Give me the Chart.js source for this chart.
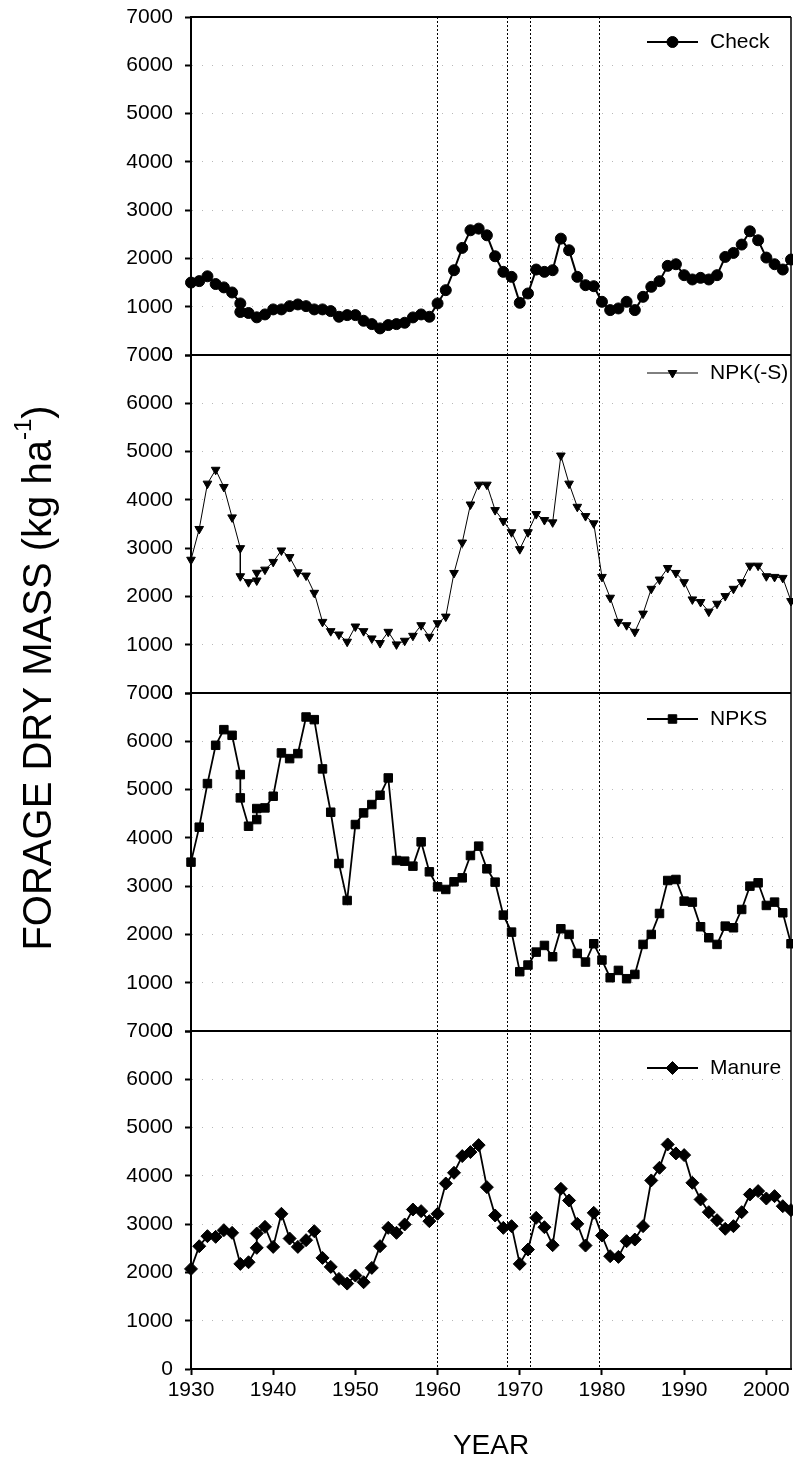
<!DOCTYPE html>
<html>
<head>
<meta charset="utf-8">
<script src="https://cdn.jsdelivr.net/npm/chart.js@4.4.0/dist/chart.umd.min.js"></script>
<style>
  html, body { margin: 0; padding: 0; background: #fff; }
  #wrap { position: relative; width: 793px; height: 1460px; }
  canvas { display: block; }
</style>
</head>
<body>
<div id="wrap"><canvas id="massChart" width="793" height="1460"></canvas></div>
<script>
// Forage dry mass (kg/ha) per treatment
const checkYears = [1930,1931,1932,1933,1934,1935,1936,1936,1937,1938,1939,1940,1941,1942,1943,1944,1945,1946,1947,1948,1949,1950,
  1951,1952,1953,1954,1955,1956,1957,1958,1959,1960,1961,1962,1963,1964,1965,1966,1967,1968,1969,1970,
  1971,1972,1973,1974,1975,1976,1977,1978,1979,1980,1981,1982,1983,1984,1985,1986,1987,1988,1989,1990,
  1991,1992,1993,1994,1995,1996,1997,1998,1999,2000,2001,2002,2003];
const checkMass = [1500,1530,1630,1470,1400,1295,1068,890,870,780,840,944,944,1012,1047,1012,944,944,909,792,826,826,
  709,640,551,620,640,668,778,840,792,1068,1343,1756,2218,2583,2617,2479,2045,1722,1618,1081,
  1274,1770,1722,1756,2410,2169,1618,1446,1425,1102,930,964,1102,930,1205,1412,1529,1846,1880,1653,
  1564,1598,1564,1653,2031,2114,2287,2562,2376,2018,1880,1770,1977];

const npkYears = [1930,1931,1932,1933,1934,1935,1936,1936,1937,1938,1938,1939,1940,1941,1942,1943,1944,1945,1946,1947,1948,1949,1950,
  1951,1952,1953,1954,1955,1956,1957,1958,1959,1960,1961,1962,1963,1964,1965,1966,1967,1968,1969,1970,
  1971,1972,1973,1974,1975,1976,1977,1978,1979,1980,1981,1982,1983,1984,1985,1986,1987,1988,1989,1990,
  1991,1992,1993,1994,1995,1996,1997,1998,1999,2000,2001,2002,2003];
const npkMass = [2760,3397,4336,4623,4267,3637,3000,2418,2295,2330,2490,2555,2715,2952,2815,2500,2432,2075,1473,1281,1212,1062,1377,
  1281,1130,1034,1267,1007,1082,1185,1404,1164,1445,1582,2486,3116,3904,4315,4315,3788,3562,3329,2979,
  3329,3705,3582,3534,4918,4336,3856,3664,3514,2404,1973,1473,1404,1267,1644,2158,2349,2589,2486,2295,
  1938,1884,1685,1849,2007,2158,2295,2637,2637,2418,2404,2384,1904];

const npksYears = [1930,1931,1932,1933,1934,1935,1936,1936,1937,1938,1938,1939,1940,1941,1942,1943,1944,1945,1946,1947,1948,1949,1950,
  1951,1952,1953,1954,1955,1956,1957,1958,1959,1960,1961,1962,1963,1964,1965,1966,1967,1968,1969,1970,
  1971,1972,1973,1974,1975,1976,1977,1978,1979,1980,1981,1982,1983,1984,1985,1986,1987,1988,1989,1990,
  1991,1992,1993,1994,1995,1996,1997,1998,1999,2000,2001,2002,2003];
const npksMass = [3497,4221,5124,5917,6241,6124,5310,4828,4241,4379,4607,4620,4862,5759,5641,5745,6503,6448,5428,4531,3469,2703,4276,
  4517,4690,4883,5241,3531,3517,3414,3917,3297,2986,2931,3090,3172,3634,3828,3359,3083,2400,2048,1228,
  1366,1634,1772,1538,2117,2000,1607,1428,1807,1469,1103,1255,1083,1172,1793,2000,2434,3117,3138,2690,
  2669,2159,1931,1793,2172,2138,2517,3000,3069,2600,2669,2448,1807];

const manureYears = [1930,1931,1932,1933,1934,1935,1936,1937,1938,1938,1939,1940,1941,1942,1943,1944,1945,1946,1947,1948,1949,1950,
  1951,1952,1953,1954,1955,1956,1957,1958,1959,1960,1961,1962,1963,1964,1965,1966,1967,1968,1969,1970,
  1971,1972,1973,1974,1975,1976,1977,1978,1979,1980,1981,1982,1983,1984,1985,1986,1987,1988,1989,1990,
  1991,1992,1993,1994,1995,1996,1997,1998,1999,2000,2001,2002,2003];
const manureMass = [2073,2543,2751,2737,2875,2820,2177,2211,2509,2806,2944,2529,3214,2702,2529,2668,2854,2301,2115,1866,1769,1935,
  1797,2094,2543,2923,2820,2993,3303,3269,3062,3214,3842,4064,4409,4492,4637,3766,3179,2923,2958,2177,
  2474,3131,2937,2564,3732,3490,3006,2557,3234,2764,2336,2322,2647,2681,2958,3905,4167,4651,4464,4430,
  3856,3511,3248,3082,2903,2958,3248,3614,3684,3531,3580,3372,3290];

// dotted reference years and axis ticks
const eventYears = [1960, 1968.5, 1971.3, 1979.7];
const yearTicks = [1930, 1940, 1950, 1960, 1970, 1980, 1990, 2000];
const massTicks = [0, 1000, 2000, 3000, 4000, 5000, 6000, 7000];

const FAMILY = '"Liberation Sans", Arial, Helvetica, sans-serif';
const tickFont = { family: FAMILY, size: 21 };

function toPoints(xs, ys) {
  return xs.map((x, i) => ({ x: x, y: ys[i] }));
}

function panelAxis(weight) {
  return {
    type: 'linear',
    position: 'left',
    stack: 'panels',
    stackWeight: 1,
    weight: weight,
    min: 0,
    max: 7000,
    afterBuildTicks: s => { s.ticks = massTicks.map(v => ({ value: v })); },
    afterFit: s => { s.width = 191; s.paddingTop = 0; s.paddingBottom = 0; },
    ticks: { color: '#000', font: tickFont, padding: 12, autoSkip: false, callback: v => String(v) },
    grid: {
      color: c => (c.tick && (c.tick.value === 0 || c.tick.value === 7000)) ? 'rgba(0,0,0,0)' : 'rgba(0,0,0,0.28)',
      lineWidth: 1,
      tickLength: 6,
      tickColor: '#000',
      tickWidth: 2
    },
    border: { display: true, color: '#000', width: 2, dash: [1, 9] }
  };
}

// frame lines between the stacked panels
const panelFrames = {
  id: 'panelFrames',
  afterDraw(chart) {
    const { ctx, chartArea: a } = chart;
    ctx.save();
    ctx.strokeStyle = '#000';
    ctx.lineWidth = 2;
    ['y0', 'y1', 'y2', 'y3'].forEach(id => {
      const s = chart.scales[id];
      ctx.beginPath();
      ctx.moveTo(a.left, s.top);
      ctx.lineTo(a.right, s.top);
      ctx.stroke();
    });
    ctx.lineWidth = 1.5;
    ctx.beginPath();
    ctx.moveTo(a.right, a.top);
    ctx.lineTo(a.right, a.bottom);
    ctx.stroke();
    ctx.restore();
  }
};

// one legend entry in the top right of each panel
const panelLegends = {
  id: 'panelLegends',
  afterDraw(chart, args, opts) {
    const ctx = chart.ctx;
    chart.data.datasets.forEach((ds, i) => {
      const s = chart.scales[ds.yAxisID];
      const y = s.top + opts.offsets[i];
      const x0 = opts.left;
      const x1 = opts.left + opts.lineLength;
      ctx.save();
      ctx.strokeStyle = '#000';
      ctx.fillStyle = '#000';
      ctx.lineWidth = ds.borderWidth;
      ctx.beginPath();
      ctx.moveTo(x0, y);
      ctx.lineTo(x1, y);
      ctx.stroke();
      if (Chart.helpers && Chart.helpers.drawPoint) {
        ctx.lineWidth = ds.pointBorderWidth;
        Chart.helpers.drawPoint(ctx, {
          pointStyle: ds.pointStyle,
          rotation: ds.pointRotation || 0,
          radius: ds.pointRadius,
          borderWidth: ds.pointBorderWidth
        }, (x0 + x1) / 2, y);
      } else {
        ctx.beginPath();
        ctx.arc((x0 + x1) / 2, y, ds.pointRadius, 0, Math.PI * 2);
        ctx.fill();
      }
      ctx.font = '21px ' + FAMILY;
      ctx.textBaseline = 'middle';
      ctx.textAlign = 'left';
      ctx.fillText(ds.label, opts.textX, y);
      ctx.restore();
    });
  }
};

// rotated y title with superscript
const yTitle = {
  id: 'yTitle',
  afterDraw(chart, args, opts) {
    const ctx = chart.ctx;
    const main = 'FORAGE DRY MASS (kg ha';
    const sup = '-1';
    const tail = ')';
    const big = opts.size + 'px ' + FAMILY;
    const small = Math.round(opts.size * 0.6) + 'px ' + FAMILY;
    ctx.save();
    ctx.font = big;
    const w1 = ctx.measureText(main).width;
    const w3 = ctx.measureText(tail).width;
    ctx.font = small;
    const w2 = ctx.measureText(sup).width;
    const total = w1 + w2 + w3;
    ctx.translate(opts.x, opts.cy);
    ctx.rotate(-Math.PI / 2);
    ctx.fillStyle = '#000';
    ctx.textAlign = 'left';
    ctx.textBaseline = 'middle';
    let x = -total / 2;
    ctx.font = big;
    ctx.fillText(main, x, 0);
    x += w1;
    ctx.font = small;
    ctx.fillText(sup, x, -opts.size * 0.4);
    x += w2;
    ctx.font = big;
    ctx.fillText(tail, x, 0);
    ctx.restore();
  }
};

new Chart(document.getElementById('massChart'), {
  type: 'line',
  data: {
    datasets: [
      {
        label: 'Check', data: toPoints(checkYears, checkMass), yAxisID: 'y0',
        borderColor: '#000', backgroundColor: '#000', borderWidth: 2,
        pointStyle: 'circle', pointRadius: 5.5, pointBorderWidth: 1,
        pointBackgroundColor: '#000', pointBorderColor: '#000'
      },
      {
        label: 'NPK(-S)', data: toPoints(npkYears, npkMass), yAxisID: 'y1',
        borderColor: '#000', backgroundColor: '#000', borderWidth: 1,
        pointStyle: 'triangle', pointRotation: 180, pointRadius: 5, pointBorderWidth: 1,
        pointBackgroundColor: '#000', pointBorderColor: '#000'
      },
      {
        label: 'NPKS', data: toPoints(npksYears, npksMass), yAxisID: 'y2',
        borderColor: '#000', backgroundColor: '#000', borderWidth: 1.8,
        pointStyle: 'rect', pointRadius: 6, pointBorderWidth: 1,
        pointBackgroundColor: '#000', pointBorderColor: '#000'
      },
      {
        label: 'Manure', data: toPoints(manureYears, manureMass), yAxisID: 'y3',
        borderColor: '#000', backgroundColor: '#000', borderWidth: 1.8,
        pointStyle: 'rectRot', pointRadius: 6.5, pointBorderWidth: 1,
        pointBackgroundColor: '#000', pointBorderColor: '#000'
      }
    ]
  },
  options: {
    responsive: false,
    animation: false,
    devicePixelRatio: 1,
    clip: false,
    layout: { autoPadding: false, padding: { left: 0, top: 17, right: 2, bottom: 0 } },
    elements: { line: { tension: 0 } },
    plugins: {
      legend: { display: false },
      tooltip: { enabled: false },
      panelLegends: { offsets: [25, 18, 26, 37], left: 647, lineLength: 51, textX: 710 },
      yTitle: { x: 40, cy: 678, size: 40 }
    },
    scales: {
      x: {
        type: 'linear',
        position: 'bottom',
        min: 1930,
        max: 2003,
        afterBuildTicks: s => { s.ticks = yearTicks.map(v => ({ value: v })); },
        afterFit: s => { s.height = 91; s.paddingLeft = 0; s.paddingRight = 0; },
        ticks: { color: '#000', font: tickFont, padding: 3, maxRotation: 0, autoSkip: false, callback: v => String(v) },
        grid: { drawOnChartArea: false, drawTicks: true, tickLength: 6, tickColor: '#000', tickWidth: 2 },
        border: { display: true, color: '#000', width: 2 },
        title: { display: true, text: 'YEAR', color: '#000', font: { family: FAMILY, size: 28, lineHeight: 1 }, padding: { top: 0, bottom: 0 } }
      },
      events: {
        type: 'linear',
        position: 'top',
        min: 1930,
        max: 2003,
        afterBuildTicks: s => { s.ticks = eventYears.map(v => ({ value: v })); },
        afterFit: s => { s.height = 0; s.paddingLeft = 0; s.paddingRight = 0; },
        ticks: { display: false },
        grid: { drawTicks: false, color: '#000', lineWidth: 1 },
        border: { display: false, dash: [2, 2] }
      },
      y0: panelAxis(4),
      y1: panelAxis(3),
      y2: panelAxis(2),
      y3: panelAxis(1)
    }
  },
  plugins: [panelFrames, panelLegends, yTitle]
});
</script>
</body>
</html>
